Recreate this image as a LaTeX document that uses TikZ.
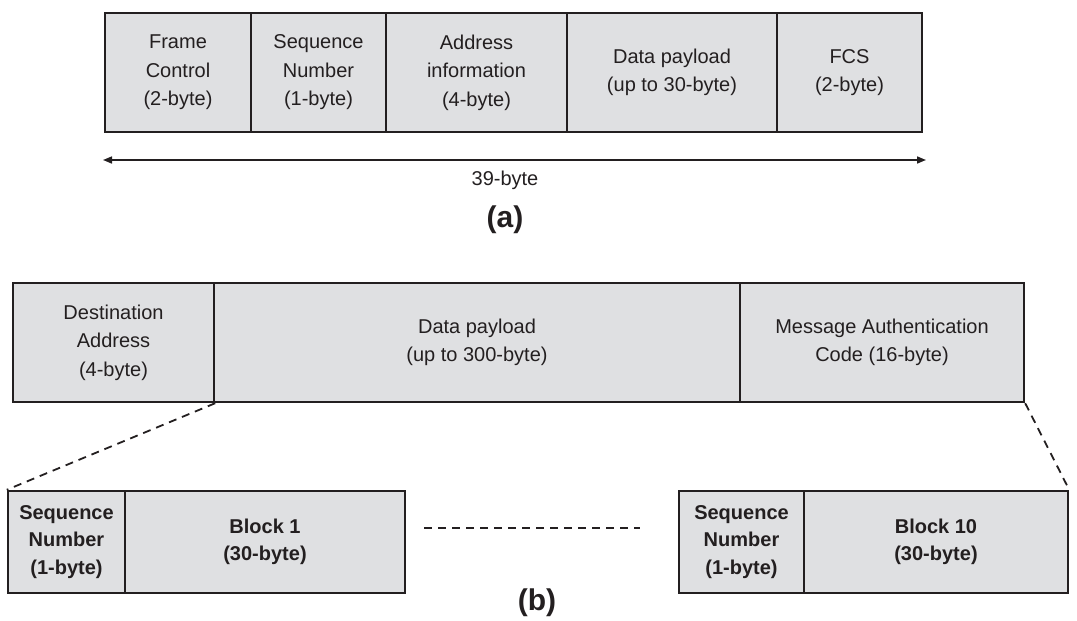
\documentclass[tikz,border=0pt]{standalone}
\usepackage{fontspec}
\setmainfont{Liberation Sans}
\usepackage{tikz}
\usetikzlibrary{arrows.meta,positioning}
\usepackage{xcolor}
\definecolor{FieldGray}{RGB}{223,224,226}
\definecolor{EdgeDark}{RGB}{35,31,32}

\begin{document}
\begin{tikzpicture}[x=1pt,y=-1pt,
  fld/.style={draw=EdgeDark,fill=FieldGray,line width=2.4pt,inner sep=0pt,text=EdgeDark,
              minimum height=119pt,align=center,font=\fontsize{20}{28.5}\selectfont},
  sub/.style={fld,minimum height=102pt,font=\fontsize{20}{27.5}\selectfont\bfseries},
  dim/.style={{Triangle[length=9pt,width=7pt]}-{Triangle[length=9pt,width=7pt]},line width=1.6pt,EdgeDark},
  zoomln/.style={dashed,dash pattern=on 8pt off 6pt,line width=1.8pt,EdgeDark},
  figlabel/.style={font=\fontsize{30}{32}\selectfont\bfseries,text=EdgeDark},
]
\useasboundingbox (0,0) rectangle (1077,621);
% (a) frame layout
\node[fld,minimum width=146pt] (fc) at (178,72.5) {Frame\\Control\\(2-byte)};
\node[fld,minimum width=135pt] (sn) at (318.5,72.5) {Sequence\\Number\\(1-byte)};
\node[fld,minimum width=181pt] (ai) at (476.5,72.5) {Address\\information\\(4-byte)};
\node[fld,minimum width=210pt] (dp) at (672,72.5) {Data payload\\(up to 30-byte)};
\node[fld,minimum width=145pt] (fcs) at (849.5,72.5) {FCS\\(2-byte)};
\coordinate (lenL) at (103,160);
\coordinate (lenR) at (926,160);
\draw[dim] (lenL) -- (lenR);
\node[font=\fontsize{20}{24}\selectfont,text=EdgeDark] (len) at (505,180) {39-byte};
\node[figlabel] (capa) at (505,220) {(a)};
% (b) message layout
\node[fld,minimum width=201pt] (da) at (113.5,342.5) {Destination\\Address\\(4-byte)};
\node[fld,minimum width=526pt] (pl) at (477,342.5) {Data payload\\(up to 300-byte)};
\node[fld,minimum width=284pt] (mac) at (882,342.5) {Message Authentication\\Code (16-byte)};
\node[sub,minimum width=117pt] (sq1) at (66.5,542) {Sequence\\Number\\(1-byte)};
\node[sub,minimum width=280pt] (b1) at (265,542) {Block 1\\(30-byte)};
\node[sub,minimum width=125pt] (sq10) at (741.5,542) {Sequence\\Number\\(1-byte)};
\node[sub,minimum width=264pt] (b10) at (936,542) {Block 10\\(30-byte)};
\draw[zoomln] (da.south east) -- (sq1.north west);
\draw[zoomln] (mac.south east) -- (b10.north east);
\coordinate (gapL) at (424,528);
\coordinate (gapR) at (640,528);
\draw[zoomln] (gapL) -- (gapR);
\node[figlabel] (capb) at (537,603) {(b)};
\end{tikzpicture}
\end{document}
